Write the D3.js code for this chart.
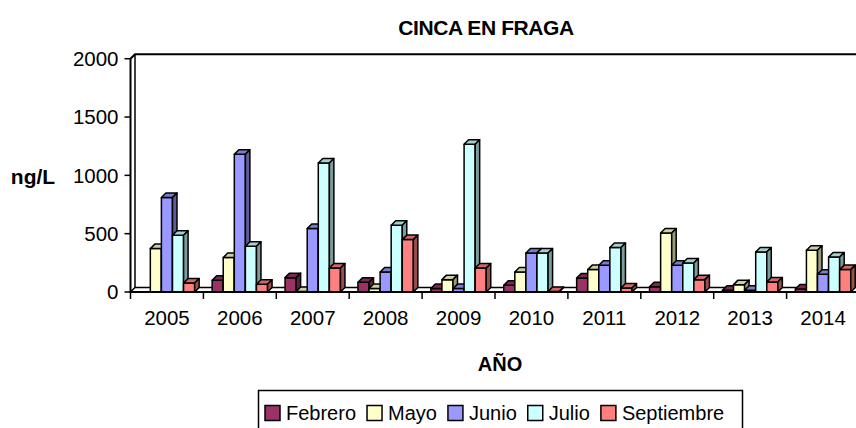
<!DOCTYPE html>
<html>
<head>
<meta charset="utf-8">
<script src="https://cdn.jsdelivr.net/npm/d3@7"></script>
<style>
  body { margin: 0; background: #fff; }
  text { font-family: "Liberation Sans", Arial, sans-serif; fill: #000; }
</style>
</head>
<body>
<svg width="856" height="428"></svg>
<script>
const years = ['2005', '2006', '2007', '2008', '2009', '2010', '2011', '2012', '2013', '2014'];
const series = ['Febrero', 'Mayo', 'Junio', 'Julio', 'Septiembre'];
const colors = ['#993366', '#FFFFCC', '#9999FF', '#CCFFFF', '#FF8080'];
const febrero    = [0, 100, 123, 84, 30, 57, 120, 45, 15, 25];
const mayo       = [372, 295, 5, 30, 106, 172, 192, 506, 63, 358];
const junio      = [810, 1181, 544, 172, 29, 335, 229, 229, 15, 152];
const julio      = [486, 392, 1106, 572, 1267, 335, 381, 249, 343, 300];
const septiembre = [77, 66, 206, 449, 206, 5, 34, 106, 86, 192];
const yTicks = [0, 500, 1000, 1500, 2000];

const values = [febrero, mayo, junio, julio, septiembre];

const svg = d3.select('svg');
const depth = 4.5;
const y0 = 292;

let x = d3.scaleBand()
          .domain(years)
          .range([130.5, 130.5 + 72.9 * years.length])
          .paddingInner(0.24)
          .paddingOuter(0.12);

let xs = d3.scaleBand()
           .domain(series)
           .range([0, x.bandwidth()]);

let y = d3.scaleLinear()
          .domain([0, 2000])
          .range([y0, 58.7]);

let z = d3.scaleOrdinal()
          .domain(series)
          .range(colors);

// walls
let xLeft = x.range()[0];
let xRight = 860;
svg.append('path')
  .attr('d', `M${xLeft},${y(2000)}L${xLeft + depth},${y(2000) - depth}L${xRight},${y(2000) - depth}`)
  .attr('fill', 'none').attr('stroke', '#000').attr('stroke-width', 2);
svg.append('line')
  .attr('x1', xLeft + depth).attr('x2', xLeft + depth)
  .attr('y1', y(2000) - depth).attr('y2', y0 - depth)
  .attr('stroke', '#000').attr('stroke-width', 1.5);

// floor
svg.append('path')
  .attr('d', `M${xLeft},${y0}L${xLeft + depth},${y0 - depth}L${xRight},${y0 - depth}L${xRight},${y0}Z`)
  .attr('fill', '#fff').attr('stroke', '#000').attr('stroke-width', 1.5);

// bars (left to right so each front face covers the previous side face)
let bars = [];
years.forEach(function(yr, i) {
  series.forEach(function(s, j) {
    if (values[j][i] > 0) bars.push({ year: yr, key: s, value: values[j][i] });
  });
});

let bar = svg.append('g')
  .selectAll('g')
  .data(bars)
  .enter().append('g')
  .attr('stroke', '#000')
  .attr('stroke-width', 1.5)
  .attr('stroke-linejoin', 'round');

bar.each(function(d) {
  let g = d3.select(this);
  let bx0 = x(d.year) + xs(d.key);
  let bx1 = bx0 + xs.bandwidth();
  let top = y(d.value);
  let c = z(d.key);
  g.append('path')
    .attr('d', `M${bx0},${y0}L${bx0},${top}L${bx1},${top}L${bx1},${y0}Z`)
    .attr('fill', c);
  g.append('path')
    .attr('d', `M${bx0},${top}L${bx0 + depth},${top - depth}L${bx1 + depth},${top - depth}L${bx1},${top}Z`)
    .attr('fill', d3.color(c).darker(0.6));
  g.append('path')
    .attr('d', `M${bx1},${top}L${bx1 + depth},${top - depth}L${bx1 + depth},${y0 - depth}L${bx1},${y0}Z`)
    .attr('fill', d3.color(c).darker(1.4));
});

// front axis
svg.append('line')
  .attr('x1', xLeft).attr('x2', xLeft)
  .attr('y1', y(2000)).attr('y2', y0)
  .attr('stroke', '#000').attr('stroke-width', 2);
svg.append('line')
  .attr('x1', xLeft).attr('x2', xRight)
  .attr('y1', y0).attr('y2', y0)
  .attr('stroke', '#000').attr('stroke-width', 2);

let yTick = svg.append('g')
  .selectAll('g')
  .data(yTicks)
  .enter().append('g')
  .attr('transform', function(d) { return 'translate(0,' + y(d) + ')'; });

yTick.append('line')
  .attr('x1', xLeft - 6).attr('x2', xLeft)
  .attr('stroke', '#000').attr('stroke-width', 1.5);

yTick.append('text')
  .attr('x', xLeft - 12)
  .attr('dy', '0.36em')
  .attr('text-anchor', 'end')
  .style('font-size', '20.5px')
  .text(function(d) { return d; });

// x ticks at category boundaries
svg.append('g')
  .selectAll('line')
  .data(years)
  .enter().append('line')
  .attr('x1', function(d) { return x(d) - x.step() * x.paddingInner() / 2; })
  .attr('x2', function(d) { return x(d) - x.step() * x.paddingInner() / 2; })
  .attr('y1', y0).attr('y2', y0 + 7)
  .attr('stroke', '#000').attr('stroke-width', 1.5);

svg.append('g')
  .selectAll('text')
  .data(years)
  .enter().append('text')
  .attr('x', function(d) { return x(d) + x.bandwidth() / 2; })
  .attr('y', 325)
  .attr('text-anchor', 'middle')
  .style('font-size', '20.5px')
  .text(function(d) { return d; });

// titles
svg.append('text')
  .attr('x', 486).attr('y', 35)
  .attr('text-anchor', 'middle')
  .style('font-size', '21px').style('font-weight', 'bold').style('letter-spacing', '-0.4px')
  .text('CINCA EN FRAGA');

svg.append('text')
  .attr('x', 33).attr('y', 184)
  .attr('text-anchor', 'middle')
  .style('font-size', '21px').style('font-weight', 'bold')
  .text('ng/L');

svg.append('text')
  .attr('x', 500).attr('y', 371)
  .attr('text-anchor', 'middle')
  .style('font-size', '20px').style('font-weight', 'bold')
  .text('AÑO');

// legend
svg.append('rect')
  .attr('x', 258.5).attr('y', 390.5)
  .attr('width', 484).attr('height', 45)
  .attr('fill', '#fff').attr('stroke', '#000').attr('stroke-width', 1.5);

let legend = svg.append('g');
let lx = 265;
series.forEach(function(s) {
  let item = legend.append('g').attr('transform', 'translate(' + lx + ',0)');
  item.append('rect')
    .attr('x', 0).attr('y', 405.5)
    .attr('width', 15).attr('height', 15)
    .attr('fill', z(s)).attr('stroke', '#000').attr('stroke-width', 1.5);
  let t = item.append('text')
    .attr('x', 21).attr('y', 420)
    .style('font-size', '20px')
    .text(s);
  lx += 21 + t.node().getComputedTextLength() + 11;
});
</script>
</body>
</html>
